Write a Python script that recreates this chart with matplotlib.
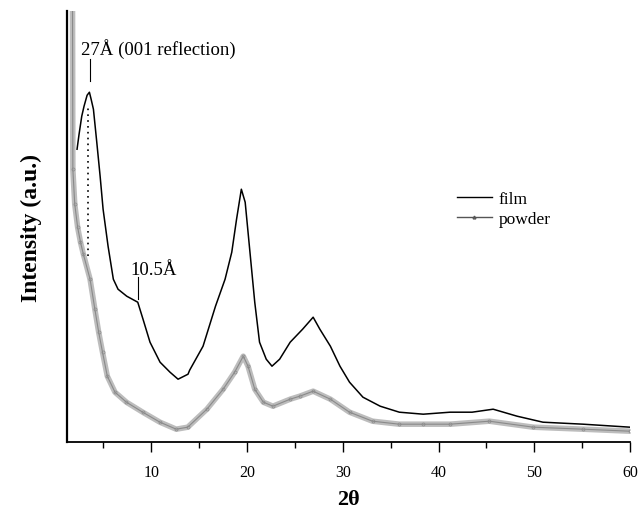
import matplotlib.pyplot as plt
from matplotlib.lines import Line2D

plt.rcParams['font.family'] = ['Liberation Serif', 'DejaVu Serif']

# film pattern (2theta, intensity in a.u.)
film_2theta = [2.24, 2.45, 2.73, 2.97, 3.29, 3.53, 3.71, 3.95, 4.30, 4.65, 4.96,
               5.48, 6.03, 6.52, 7.43, 8.58, 9.13, 9.86, 10.91, 11.95, 12.79,
               13.83, 14.0, 15.4, 16.7, 17.7, 18.4, 18.9, 19.4, 19.8, 20.3,
               20.8, 21.3, 22.0, 22.6, 23.4, 24.5, 25.3, 25.8, 26.9, 27.6,
               28.7, 29.7, 30.7, 32.1, 33.9, 35.9, 38.4, 41.2, 43.5, 45.7,
               48.2, 50.9, 55.1, 60.0]
film_int = [293, 308, 326, 336, 347, 350, 343, 333, 300, 266, 233,
            196, 163, 153, 146, 140, 123, 100, 80, 70, 63,
            68, 72, 96, 136, 163, 190, 223, 253, 240, 190,
            140, 100, 83, 76, 83, 100, 108, 113, 125, 113,
            96, 76, 60, 45, 36, 30, 28, 30, 30, 33,
            26, 20, 18, 15]

# powder pattern
powder_2theta = [1.75, 1.8, 2.0, 2.3, 2.6, 2.9, 3.6, 4.1, 4.5, 4.9, 5.4, 6.2,
                 7.4, 9.1, 10.9, 12.6, 13.8, 15.8, 17.5, 18.7, 19.6, 20.1,
                 20.8, 21.7, 22.7, 24.5, 25.5, 26.9, 28.7, 30.7, 33.1, 35.9,
                 38.4, 41.2, 45.3, 49.9, 55.1, 60.0]
powder_int = [520, 273, 238, 215, 200, 188, 163, 133, 110, 90, 66, 50,
              40, 30, 20, 13, 15, 33, 53, 70, 86, 76,
              53, 40, 36, 43, 46, 51, 43, 30, 21, 18,
              18, 18, 21, 15, 13, 11]

xticks_major = [10, 20, 30, 40, 50, 60]
xticks_minor = [5, 15, 25, 35, 45, 55]

fig = plt.figure(figsize=(6.39, 5.10), dpi=100)
ax = fig.add_axes([0.105, 0.131, 0.881, 0.845])

# powder: gray band of small open circles
ax.plot(powder_2theta, powder_int, color='#bdbdbd', lw=4.0, solid_capstyle='round')
ax.plot(powder_2theta, powder_int, color='#8a8a8a', lw=0.8, marker='o',
        markersize=2.2, markerfacecolor='none', markeredgewidth=0.5)
# film
ax.plot(film_2theta, film_int, color='black', lw=1.1)

# reflection markers
ax.plot([3.39, 3.39], [186, 336], color='black', lw=1.2, linestyle=(0, (1, 2.5)))
ax.plot([3.6, 3.6], [361, 383], color='black', lw=0.8)
ax.text(2.7, 384, '27Å (001 reflection)', fontsize=13.5, ha='left', va='bottom')
ax.plot([8.58, 8.58], [143, 165], color='black', lw=0.8)
ax.text(7.8, 164, '10.5Å', fontsize=13.5, ha='left', va='bottom')

ax.set_xlim(1.2, 60)
ax.set_ylim(0, 431)
ax.set_xticks(xticks_major)
ax.set_xticks(xticks_minor, minor=True)
ax.set_yticks([])
ax.tick_params(axis='x', which='major', length=7, width=1, labelsize=11.5, pad=9)
ax.tick_params(axis='x', which='minor', length=4, width=1)
for s in ['top', 'right']:
    ax.spines[s].set_visible(False)
ax.spines['left'].set_linewidth(1.6)
ax.spines['bottom'].set_linewidth(1.3)

ax.set_xlabel('2θ', fontsize=16, fontweight='bold', labelpad=6)
ax.set_ylabel('Intensity (a.u.)', fontsize=17, fontweight='bold', labelpad=18)

handles = [Line2D([], [], color='black', lw=1),
           Line2D([], [], color='#555555', lw=1, marker='^', markersize=2,
                  markerfacecolor='none', markevery=[0])]
ax.legend(handles, ['film', 'powder'], loc='upper left',
          bbox_to_anchor=(0.665, 0.62), frameon=False, fontsize=12.5,
          handlelength=2.0, handletextpad=0.4, labelspacing=0.25)

plt.savefig('out.png', dpi=100)
